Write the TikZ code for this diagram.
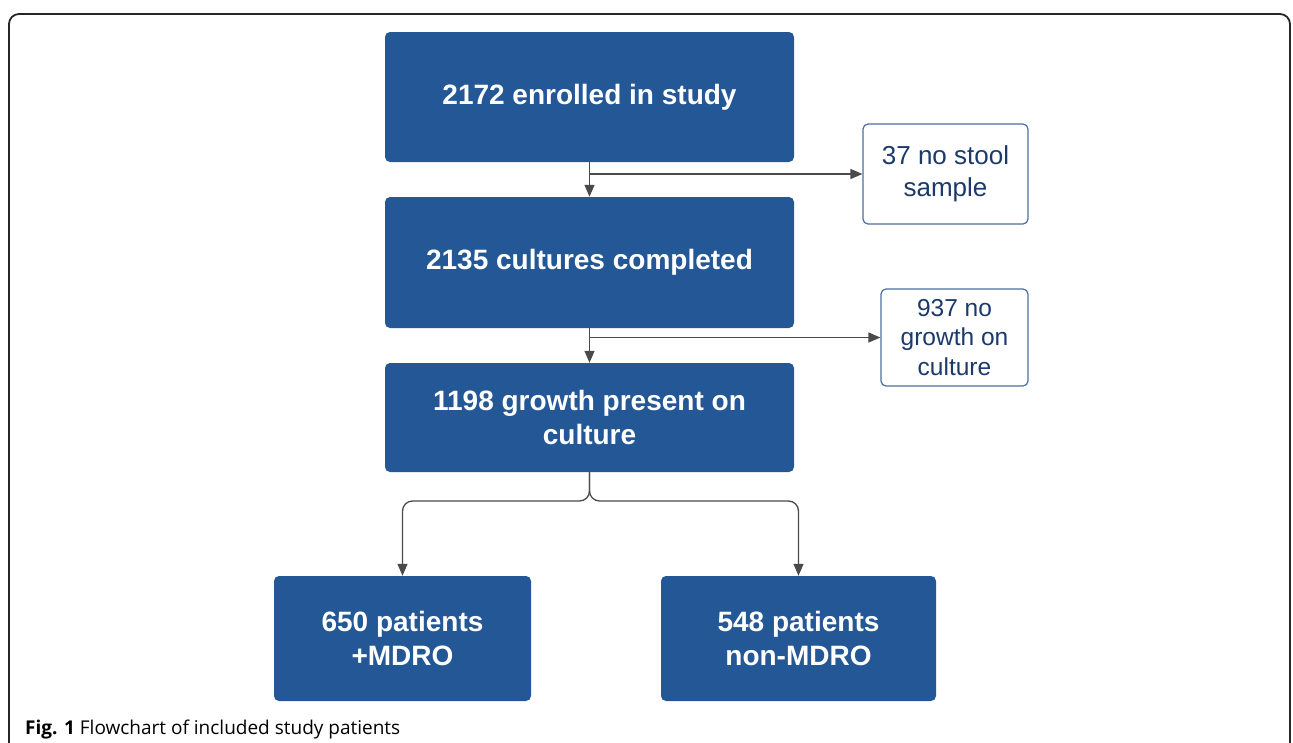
\documentclass[tikz,border=0pt]{standalone}
\usepackage{fontspec}
\setmainfont{Liberation Sans}
\newfontfamily\capfont{Open Sans}
\usetikzlibrary{arrows.meta}

\definecolor{boxblue}{HTML}{245796}
\definecolor{sideline}{HTML}{4C6E9E}
\definecolor{sidetext}{HTML}{1B3A6B}
\definecolor{linkgray}{HTML}{4A4A4A}

\tikzset{
  mainbox/.style={fill=boxblue, text=white, rounded corners=5pt, align=center,
    inner sep=0pt, font=\bfseries\fontsize{28}{34}\selectfont},
  sidebox/.style={draw=sideline, line width=1.2pt, fill=white, text=sidetext,
    rounded corners=5pt, align=center, inner sep=0pt,
    font=\fontsize{26}{32}\selectfont},
  link/.style={draw=linkgray, line width=1.3pt}
}

\begin{document}
\begin{tikzpicture}[x=1pt, y=-1pt, >={Triangle[length=12pt,width=10pt]}]
  \useasboundingbox (0,0) rectangle (1293,742);
  % outer frame, open at the bottom
  \draw[line width=1.8pt, color=black!85, rounded corners=10pt]
    (9,750) -- (9,14) -- (1290,14) -- (1290,750);

  % main column
  \node[mainbox, minimum width=409pt, minimum height=130pt] (enrolled) at (589.5,97) {2172 enrolled in study};
  \node[mainbox, minimum width=409pt, minimum height=131pt] (cultured) at (589.5,262.5) {2135 cultures completed};
  \node[mainbox, minimum width=409pt, minimum height=109pt] (growth) at (589.5,417.5) {1198 growth present on\\culture};
  \node[mainbox, minimum width=257pt, minimum height=125pt] (mdro) at (402.5,638.5) {650 patients\\+MDRO};
  \node[mainbox, minimum width=275pt, minimum height=125pt] (nonmdro) at (798.5,638.5) {548 patients\\non-MDRO};

  % exclusions
  \node[sidebox, minimum width=165pt, minimum height=100pt] (nostool) at (945.5,174) {37 no stool\\sample};
  \node[sidebox, minimum width=147pt, minimum height=97pt, font=\fontsize{24.5}{29.5}\selectfont] (nogrowth) at (954.5,337.5) {937 no\\growth on\\culture};

  \coordinate (k1) at (589.5,174);
  \coordinate (k2) at (589.5,337.5);
  \coordinate (split) at (589.5,501);

  \draw[link, ->] (enrolled.south) -- (cultured.north);
  \draw[link, ->] (k1) -- (nostool.west);
  \draw[link, ->] (cultured.south) -- (growth.north);
  \draw[link, ->] (k2) -- (nogrowth.west);
  \draw[link, ->, rounded corners=10pt] (growth.south) -- (split) -| (mdro.north);
  \draw[link, ->, rounded corners=10pt] (growth.south) -- (split) -| (nonmdro.north);

  \node[anchor=base west, inner sep=0pt, font=\capfont\fontsize{19}{23}\selectfont] (caption) at (25,734)
    {\textbf{Fig. 1} Flowchart of included study patients};
\end{tikzpicture}
\end{document}
